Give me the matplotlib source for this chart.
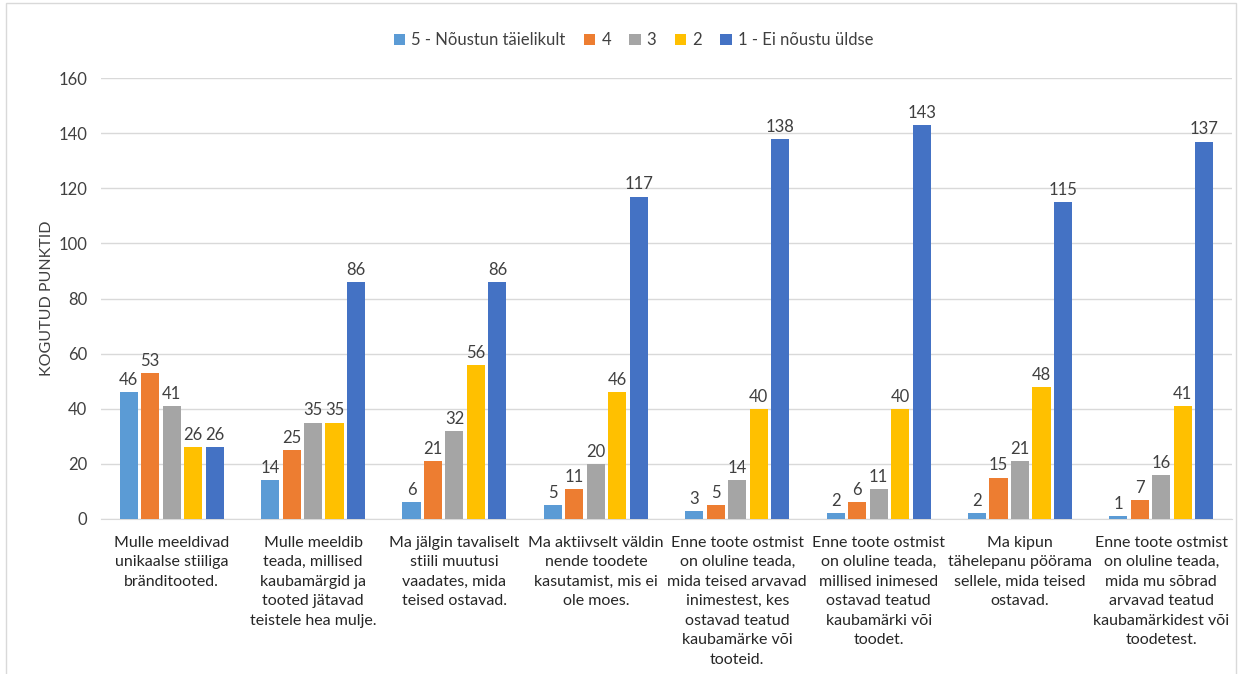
import matplotlib.pyplot as plt
import numpy as np

plt.rcParams['font.family'] = ['Lato', 'DejaVu Sans']

categories = [
    "Mulle meeldivad\nunikaalse stiiliga\nbränditooted.",
    "Mulle meeldib\nteada, millised\nkaubamärgid ja\ntooted jätavad\nteistele hea mulje.",
    "Ma jälgin tavaliselt\nstiili muutusi\nvaadates, mida\nteised ostavad.",
    "Ma aktiivselt väldin\nnende toodete\nkasutamist, mis ei\nole moes.",
    "Enne toote ostmist\non oluline teada,\nmida teised arvavad\ninimestest, kes\nostavad teatud\nkaubamärke või\ntooteid.",
    "Enne toote ostmist\non oluline teada,\nmillised inimesed\nostavad teatud\nkaubamärki või\ntoodet.",
    "Ma kipun\ntähelepanu pöörama\nsellele, mida teised\nostavad.",
    "Enne toote ostmist\non oluline teada,\nmida mu sõbrad\narvavad teatud\nkaubamärkidest või\ntoodetest.",
]
series_names = ["5 - Nõustun täielikult", "4", "3", "2", "1 - Ei nõustu üldse"]
s5 = [46, 14, 6, 5, 3, 2, 2, 1]
s4 = [53, 25, 21, 11, 5, 6, 15, 7]
s3 = [41, 35, 32, 20, 14, 11, 21, 16]
s2 = [26, 35, 56, 46, 40, 40, 48, 41]
s1 = [26, 86, 86, 117, 138, 143, 115, 137]
colors = ["#5B9BD5", "#ED7D31", "#A5A5A5", "#FFC000", "#4472C4"]

fig = plt.figure(figsize=(12.42, 6.74), dpi=100)
ax = fig.add_axes([0.0813, 0.230, 0.9107, 0.654])

x = np.arange(len(categories))
step = 0.152
width = 0.128
for i, (vals, name, c) in enumerate(zip([s5, s4, s3, s2, s1], series_names, colors)):
    bars = ax.bar(x + (i - 2) * step, vals, width, color=c, label=name, zorder=3)
    ax.bar_label(bars, padding=3, fontsize=12, color="#404040")

ax.set_xlim(-0.5, len(categories) - 0.5)
ax.set_ylim(0, 160)
ax.set_yticks(range(0, 161, 20))
ax.tick_params(axis="y", length=0, labelsize=12, labelcolor="#404040", pad=10)
ax.tick_params(axis="x", length=0, labelsize=11.5, labelcolor="#262626", pad=12)
ax.set_xticks(x)
ax.set_xticklabels(categories, linespacing=1.5, va="top")
ax.grid(axis="y", color="#D9D9D9", linewidth=1, zorder=0)
for s in ["top", "right", "left"]:
    ax.spines[s].set_visible(False)
ax.spines["bottom"].set_color("#D9D9D9")
ax.set_ylabel("KOGUTUD PUNKTID", fontsize=11.5, color="#404040", labelpad=3)

fig.legend(loc="center", bbox_to_anchor=(0.51, 0.94), ncol=5, frameon=False,
           fontsize=12, handlelength=0.7, handleheight=0.7, handletextpad=0.35,
           columnspacing=1.1, labelcolor="#404040")

# outer border of the chart area
fig.patches.append(plt.Rectangle((0.005, -0.01), 0.99, 1.005, transform=fig.transFigure,
                                 fill=False, edgecolor="#D9D9D9", linewidth=1))

fig.savefig("out.png", dpi=100)
